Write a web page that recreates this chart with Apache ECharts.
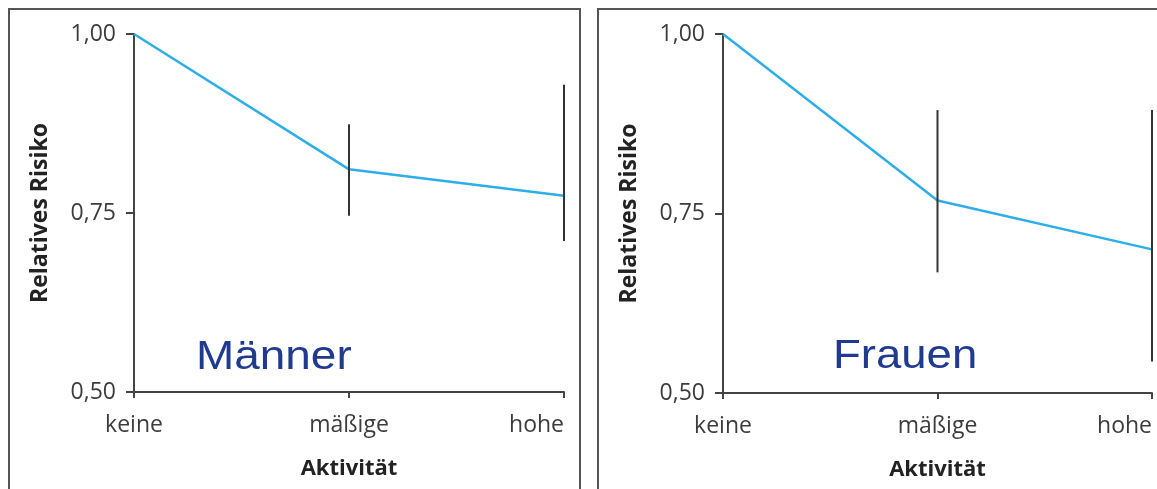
<!DOCTYPE html>
<html>
<head>
<meta charset="utf-8">
<script src="https://cdn.jsdelivr.net/npm/echarts@6/dist/echarts.min.js"></script>
<style>
html,body{margin:0;padding:0;background:#fff;}
#chart{width:1157px;height:489px;}
</style>
</head>
<body>
<div id="chart"></div>
<script>
// ---- data ----
const categories = ['keine', 'mäßige', 'hohe'];
const yTicks = [0.50, 0.75, 1.00];
const maennerRR   = [1.00, 0.811, 0.774];
const maennerLow  = [null, 0.746, 0.711];
const maennerHigh = [null, 0.874, 0.929];
const frauenRR    = [1.00, 0.768, 0.700];
const frauenLow   = [null, 0.668, 0.544];
const frauenHigh  = [null, 0.894, 0.894];
const panelTitles = ['Männer', 'Frauen'];
const xName = 'Aktivität';
const yName = 'Relatives Risiko';

const labelFont = '"Open Sans", sans-serif';
const axisColor = '#444';
const labelColor = '#3c3c3c';

function errData(low, high) {
  const out = [];
  for (let i = 0; i < categories.length; i++) {
    if (low[i] != null && high[i] != null) out.push([i, low[i], high[i]]);
  }
  return out;
}

function makeX(gi) {
  return {
    type: 'category', gridIndex: gi, data: categories, boundaryGap: false,
    axisLine: {lineStyle: {color: axisColor, width: 2}},
    axisTick: {show: true, length: 6, lineStyle: {color: axisColor, width: 2}},
    axisLabel: {color: labelColor, fontFamily: labelFont, fontSize: 23, margin: 22,
      alignMaxLabel: 'right', showMaxLabel: true, showMinLabel: true},
    name: xName, nameLocation: 'middle', nameGap: 66,
    nameTextStyle: {color: '#222', fontFamily: labelFont, fontWeight: 'bold', fontSize: 22},
    splitLine: {show: false}
  };
}
function makeY(gi) {
  return {
    type: 'value', gridIndex: gi, min: yTicks[0], max: yTicks[yTicks.length - 1],
    interval: yTicks[1] - yTicks[0],
    axisLine: {show: true, lineStyle: {color: axisColor, width: 2}},
    axisTick: {show: true, length: 8, lineStyle: {color: axisColor, width: 2}},
    axisLabel: {color: labelColor, fontFamily: labelFont, fontSize: 23, margin: 18,
      formatter: v => v.toFixed(2).replace('.', ',')},
    splitLine: {show: false},
    name: yName, nameLocation: 'middle', nameGap: 82, nameRotate: 90,
    nameTextStyle: {color: '#222', fontFamily: labelFont, fontWeight: 'bold', fontSize: 23}
  };
}
function errSeries(gi, low, high) {
  return {
    type: 'custom', xAxisIndex: gi, yAxisIndex: gi, z: 5,
    data: errData(low, high),
    renderItem: function (params, api) {
      const p1 = api.coord([api.value(0), api.value(1)]);
      const p2 = api.coord([api.value(0), api.value(2)]);
      return {type: 'line', shape: {x1: p1[0], y1: p1[1], x2: p2[0], y2: p2[1]},
        style: {stroke: '#333', lineWidth: 2}};
    }
  };
}
function lineSeries(gi, vals) {
  return {
    type: 'line', xAxisIndex: gi, yAxisIndex: gi, data: vals, z: 3,
    symbol: 'none', lineStyle: {color: '#2eaee8', width: 2.5}
  };
}

const chart = echarts.init(document.getElementById('chart'), null, {renderer: 'canvas'});
chart.setOption({
  backgroundColor: '#fff',
  animation: false,
  grid: [
    {left: 134, right: 593, top: 34, bottom: 97, outerBoundsMode: 'none', containLabel: false},
    {left: 723, right: 5, top: 34, bottom: 96, outerBoundsMode: 'none', containLabel: false}
  ],
  xAxis: [makeX(0), makeX(1)],
  yAxis: [makeY(0), makeY(1)],
  series: [
    lineSeries(0, maennerRR), errSeries(0, maennerLow, maennerHigh),
    lineSeries(1, frauenRR), errSeries(1, frauenLow, frauenHigh)
  ],
  graphic: [
    {type: 'rect', x: 0, y: 0, shape: {x: 9, y: 9, width: 571, height: 520},
      style: {fill: 'none', stroke: '#555', lineWidth: 2}, z: 0},
    {type: 'rect', x: 0, y: 0, shape: {x: 598, y: 9, width: 620, height: 520},
      style: {fill: 'none', stroke: '#555', lineWidth: 2}, z: 0},
    {type: 'text', x: 196, y: 357.7, scaleX: 1.12, scaleY: 1,
      style: {x: 0, y: 0, text: panelTitles[0], fill: '#1f3a8f',
      font: '41px "Liberation Sans", Arial, sans-serif', textVerticalAlign: 'middle'}, z: 10},
    {type: 'text', x: 833, y: 356.4, scaleX: 1.11, scaleY: 1,
      style: {x: 0, y: 0, text: panelTitles[1], fill: '#1f3a8f',
      font: '41px "Liberation Sans", Arial, sans-serif', textVerticalAlign: 'middle'}, z: 10}
  ]
});
</script>
</body>
</html>
